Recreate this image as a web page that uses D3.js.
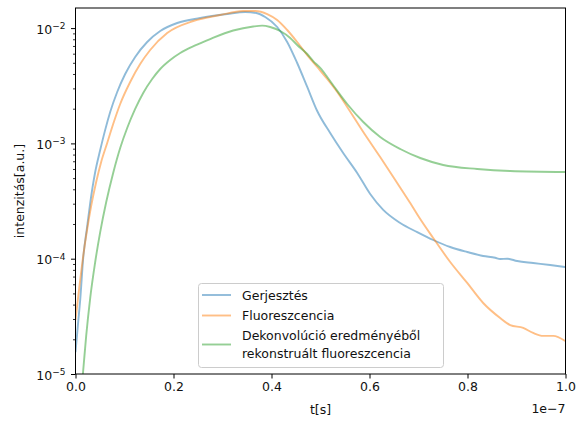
<!DOCTYPE html>
<html><head><meta charset="utf-8">
<script src="https://cdn.jsdelivr.net/npm/d3@7"></script>
<style>
body{margin:0;background:#fff}
svg{display:block}
text{font-family:"DejaVu Sans",sans-serif;fill:#111}
</style></head>
<body><div id="chart"></div>
<script>
// ---- data (time in ns, intensity in a.u.) ----
const seriesNames = ["Gerjesztés", "Fluoreszcencia", "Dekonvolúció eredményéből\nrekonstruált fluoreszcencia"];
const seriesColors = ["#1f77b4", "#ff7f0e", "#2ca02c"];

const tGerj = [0,0.55,0.96,1.57,2.39,3.0,4.02,5.04,6.06,7.08,8.51,10.14,12.18,14.63,17.29,20.76,25.45,30.96,34.64,36.88,38.71,41.16,43.2,45.24,47.29,49.33,51.98,54.63,57.49,60.14,62.8,66.27,69.74,73.0,76.47,79.94,83.2,85.65,86.67,88.1,90.14,93.4,96.87,99.93];
const vGerj = [1.55e-5,2.83e-5,4.38e-5,1.01e-4,1.92e-4,3.04e-4,5.65e-4,8.76e-4,1.31e-3,1.87e-3,2.79e-3,4.0e-3,5.62e-3,7.58e-3,9.44e-3,1.107e-2,1.223e-2,1.325e-2,1.379e-2,1.352e-2,1.248e-2,1.022e-2,7.58e-3,4.98e-3,3.09e-3,1.91e-3,1.23e-3,8.25e-4,5.54e-4,3.64e-4,2.65e-4,2.04e-4,1.70e-4,1.453e-4,1.263e-4,1.143e-4,1.055e-4,1.02e-4,9.94e-5,1.0e-4,9.55e-5,9.18e-5,8.82e-5,8.47e-5];

const tFluo = [0,0.76,1.57,2.39,3.2,4.22,5.24,6.47,7.69,9.12,11.16,13.2,15.24,18.71,24.02,29.53,34.22,36.67,39.12,41.16,43.2,45.24,47.29,49.33,51.37,53.41,55.45,58.73,62.18,65.65,68.31,70.35,73.0,76.47,79.94,83.2,86.67,88.71,91.37,93.4,95.45,97.49,99.93];
const vFluo = [2.94e-5,5.57e-5,1.055e-4,1.81e-4,2.87e-4,4.63e-4,6.90e-4,1.008e-3,1.473e-3,2.197e-3,3.41e-3,4.88e-3,6.46e-3,9.07e-3,1.152e-2,1.299e-2,1.407e-2,1.407e-2,1.325e-2,1.176e-2,9.63e-3,7.58e-3,5.84e-3,4.60e-3,3.62e-3,2.79e-3,2.07e-3,1.256e-3,7.62e-4,4.54e-4,3.04e-4,2.21e-4,1.512e-4,9.36e-5,6.16e-5,4.13e-5,3.06e-5,2.66e-5,2.51e-5,2.27e-5,2.14e-5,2.14e-5,1.93e-5];

const tDekon = [0,1.51,2.18,3.0,4.02,5.04,6.27,7.69,9.12,10.55,12.18,13.82,15.65,17.29,19.33,21.37,24.43,27.49,32.18,36.27,38.1,39.73,41.78,43.82,45.24,47.29,48.51,49.94,51.37,53.0,55.45,58.73,62.18,66.27,70.35,75.04,81.98,88.71,99.93];
const vDekon = [2.2e-6,1.0e-5,2.14e-5,4.56e-5,9.36e-5,1.70e-4,3.10e-4,5.54e-4,9.12e-4,1.36e-3,1.99e-3,2.74e-3,3.62e-3,4.42e-3,5.29e-3,6.08e-3,7.07e-3,8.04e-3,9.53e-3,1.033e-2,1.05e-2,1.022e-2,9.44e-3,8.21e-3,7.14e-3,5.96e-3,5.18e-3,4.51e-3,3.77e-3,3.02e-3,2.197e-3,1.533e-3,1.137e-3,8.94e-4,7.47e-4,6.50e-4,6.0e-4,5.76e-4,5.65e-4];

const xTicks = [0, 0.2e-7, 0.4e-7, 0.6e-7, 0.8e-7, 1.0e-7];
const yTicks = [1e-5, 1e-4, 1e-3, 1e-2];
const xLabel = "t[s]";
const yLabel = "intenzitás[a.u.]";
const xOffsetText = "1e−7";

// ---- drawing ----
const W = 582, H = 421;
const L = 75.5, R = 565.5, T = 8, B = 374;
const svg = d3.select("#chart").append("svg").attr("width", W).attr("height", H);

const x = d3.scaleLinear().domain([0, 1e-7]).range([L, R]);
const y = d3.scaleLog().domain([1e-5, 0.01494]).range([B, T]);

svg.append("defs").append("clipPath").attr("id", "clip")
  .append("rect").attr("x", L).attr("y", T).attr("width", R - L).attr("height", B - T);

const series = [
  {t: tGerj, v: vGerj},
  {t: tFluo, v: vFluo},
  {t: tDekon, v: vDekon}
];
const line = d3.line().x(d => x(d[0] * 1e-9)).y(d => y(d[1])).curve(d3.curveMonotoneX);
const g = svg.append("g").attr("clip-path", "url(#clip)");
series.forEach((s, i) => {
  const pts = s.t.map((t, k) => [t, s.v[k]]);
  g.append("path").attr("d", line(pts)).attr("fill", "none")
    .attr("stroke", seriesColors[i]).attr("stroke-opacity", 0.5)
    .attr("stroke-width", 1.9).attr("stroke-linejoin", "round").attr("stroke-linecap", "butt");
});

// axes
const xAxis = d3.axisBottom(x).tickValues(xTicks).tickSize(4.5).tickPadding(4)
  .tickFormat(d => (d / 1e-7).toFixed(1));
const gx = svg.append("g").attr("transform", `translate(0,${B})`).call(xAxis);
gx.select(".domain").remove();
gx.selectAll("line").attr("stroke", "#000").attr("stroke-width", 1);
gx.selectAll("text").attr("font-size", "12.5px").attr("fill", "#111").attr("font-family", "DejaVu Sans");

const minor = [];
for (let e = -5; e <= -2; e++) for (let m = 2; m <= 9; m++) { const v = m * Math.pow(10, e); if (v <= 0.01494) minor.push(v); }
const yAxisMinor = d3.axisLeft(y).tickValues(minor).tickSize(2.5).tickFormat("");
const gym = svg.append("g").attr("transform", `translate(${L},0)`).call(yAxisMinor);
gym.select(".domain").remove();
gym.selectAll("line").attr("stroke", "#000").attr("stroke-width", 0.8);

const yAxis = d3.axisLeft(y).tickValues(yTicks).tickSize(4.5).tickPadding(4).tickFormat("");
const gy = svg.append("g").attr("transform", `translate(${L},0)`).call(yAxis);
gy.select(".domain").remove();
gy.selectAll("line").attr("stroke", "#000").attr("stroke-width", 1);
gy.selectAll(".tick").each(function(d) {
  const e = Math.round(Math.log10(d));
  const t = d3.select(this).append("text").attr("x", -10).attr("y", 0).attr("dy", "0.42em")
    .attr("text-anchor", "end").attr("font-size", "12.5px").attr("fill", "#111");
  t.append("tspan").text("10");
  t.append("tspan").attr("dy", "-0.55em").attr("font-size", "9px").text("−" + Math.abs(e));
});

// frame
svg.append("rect").attr("x", L).attr("y", T).attr("width", R - L).attr("height", B - T)
  .attr("fill", "none").attr("stroke", "#000").attr("stroke-width", 1);

// labels
svg.append("text").attr("x", (L + R) / 2).attr("y", 414).attr("text-anchor", "middle")
  .attr("font-size", "12.5px").text(xLabel);
svg.append("text").attr("transform", `translate(24,${(T + B) / 2}) rotate(-90)`)
  .attr("text-anchor", "middle").attr("font-size", "12.5px").text(yLabel);
svg.append("text").attr("x", R).attr("y", 413).attr("text-anchor", "end")
  .attr("font-size", "12.5px").text(xOffsetText);

// legend
const lg = svg.append("g");
lg.append("rect").attr("x", 198.5).attr("y", 283.5).attr("width", 245).attr("height", 84).attr("rx", 3)
  .attr("fill", "#fff").attr("fill-opacity", 0.8).attr("stroke", "#ccc").attr("stroke-width", 1);
const entries = [
  {ly: 295, lines: [295]},
  {ly: 315.5, lines: [315.5]},
  {ly: 344.5, lines: [335.5, 353.5]}
];
entries.forEach((en, i) => {
  lg.append("line").attr("x1", 202).attr("x2", 231).attr("y1", en.ly).attr("y2", en.ly)
    .attr("stroke", seriesColors[i]).attr("stroke-opacity", 0.5).attr("stroke-width", 1.9);
  const parts = seriesNames[i].split("\n");
  parts.forEach((p, k) => {
    lg.append("text").attr("x", 242).attr("y", en.lines[k]).attr("dy", "0.36em")
      .attr("font-size", "12.5px").text(p);
  });
});
</script>
</body></html>
